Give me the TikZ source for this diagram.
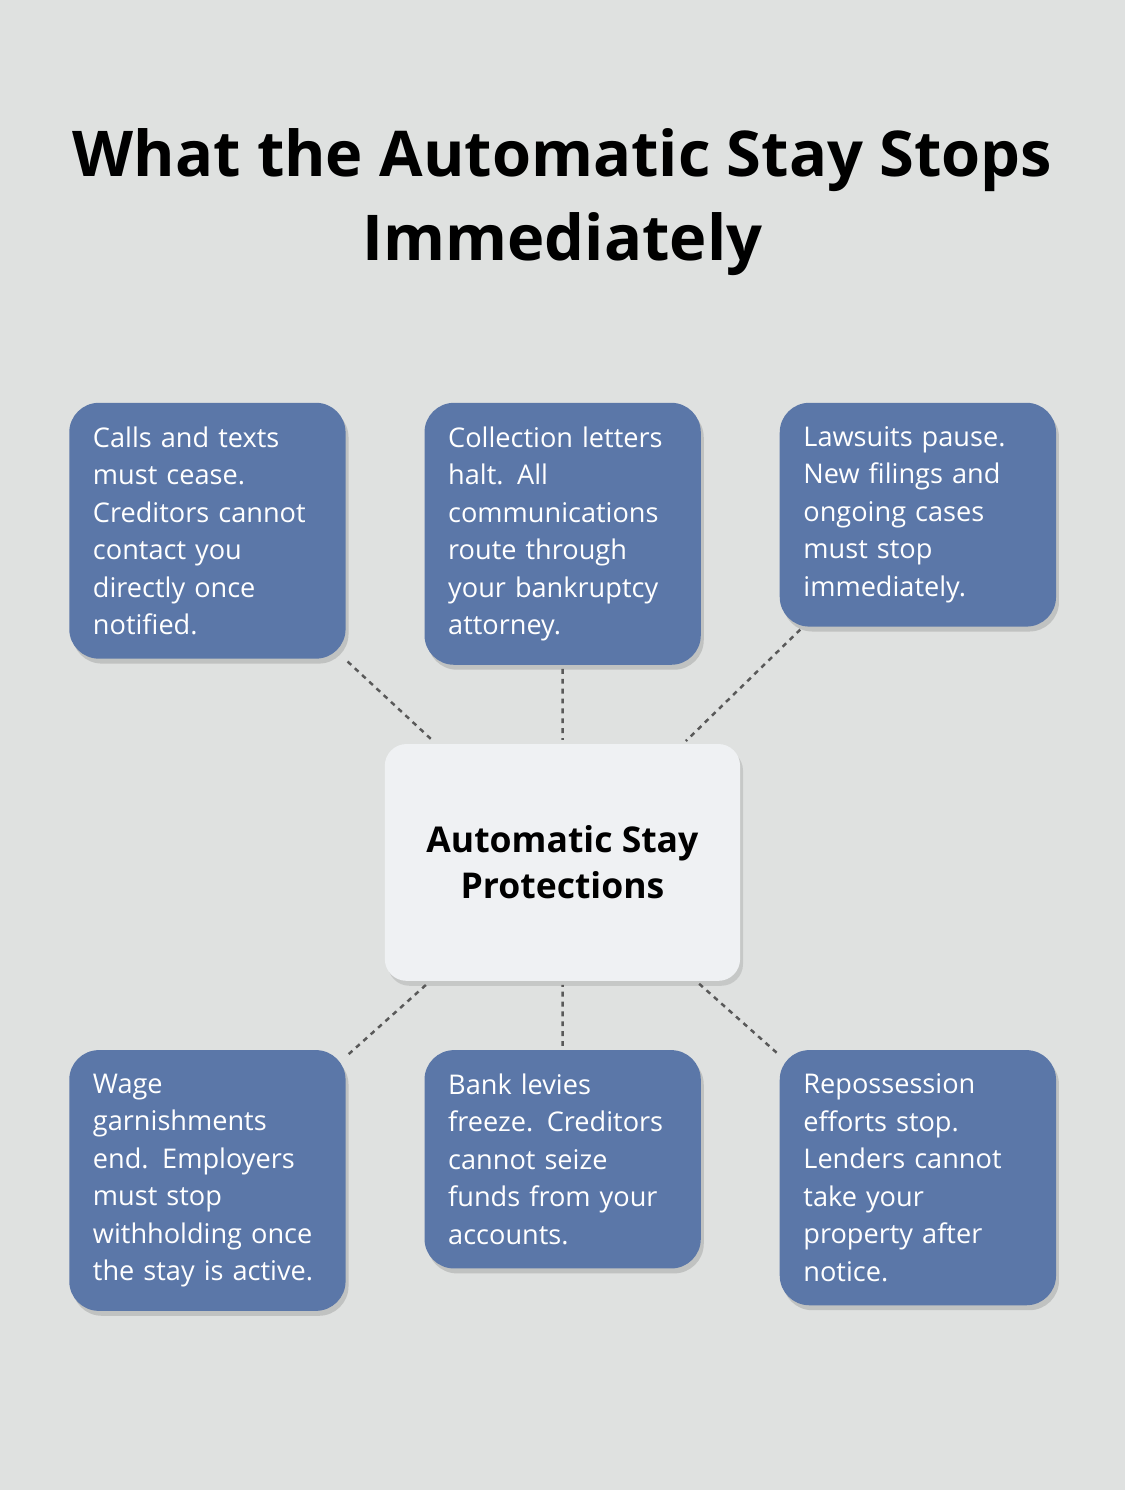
\documentclass[tikz,border=0pt]{standalone}
\usepackage{fontspec}
\setmainfont{Open Sans}
\usetikzlibrary{shadows}
\definecolor{bgcol}{HTML}{DFE1E0}
\definecolor{boxcol}{HTML}{5B77A8}
\definecolor{hubcol}{HTML}{EFF1F3}
\tikzset{
	item/.style={anchor=north west, fill=boxcol, text=white, rounded corners=30pt,
		inner sep=24pt, text width=232pt, align=left,
		font=\fontsize{27.5}{38}\selectfont,
		drop shadow={shadow xshift=3pt, shadow yshift=-5pt, opacity=0.25, fill=black!60}},
	link/.style={line width=2.5pt, black!65, dash pattern=on 5pt off 5pt, shorten <=4pt, shorten >=4pt}
}
\begin{document}
\begin{tikzpicture}[x=1pt, y=-1pt]
		\fill[bgcol] (-10, -10) rectangle (1130, 1500);
		\useasboundingbox (0, 0) rectangle (1120, 1490);

		\node[font=\bfseries\fontsize{64}{85}\selectfont, align=center] (title) at (560, 195)
			{What the Automatic Stay Stops\\Immediately};

		% hub
		\node[fill=hubcol, rounded corners=22pt, minimum width=360pt, minimum height=240pt,
			align=center, font=\bfseries\fontsize{36}{47}\selectfont,
			drop shadow={shadow xshift=3pt, shadow yshift=-5pt, opacity=0.2, fill=black!60}]
			(hub) at (560, 864) {Automatic Stay\\Protections};

		% top row
		\node[item] (calls) at (60, 398) {Calls and texts\\must cease.\\Creditors cannot\\contact you\\directly once\\notified.};
		\node[item] (letters) at (420, 398) {Collection letters\\halt. All\\communications\\route through\\your bankruptcy\\attorney.};
		\node[item] (suits) at (780, 398) {Lawsuits pause.\\New filings and\\ongoing cases\\must stop\\immediately.};

		% bottom row
		\node[item] (wages) at (60, 1054) {Wage\\garnishments\\end. Employers\\must stop\\withholding once\\the stay is active.};
		\node[item] (levies) at (420, 1054) {Bank levies\\freeze. Creditors\\cannot seize\\funds from your\\accounts.};
		\node[item] (repo) at (780, 1054) {Repossession\\efforts stop.\\Lenders cannot\\take your\\property after\\notice.};

		\draw[link] (calls) -- (hub);
		\draw[link] (letters) -- (hub);
		\draw[link] (suits) -- (hub);
		\draw[link] (wages) -- (hub);
		\draw[link] (levies) -- (hub);
		\draw[link] (repo) -- (hub);
	\end{tikzpicture}
\end{document}
